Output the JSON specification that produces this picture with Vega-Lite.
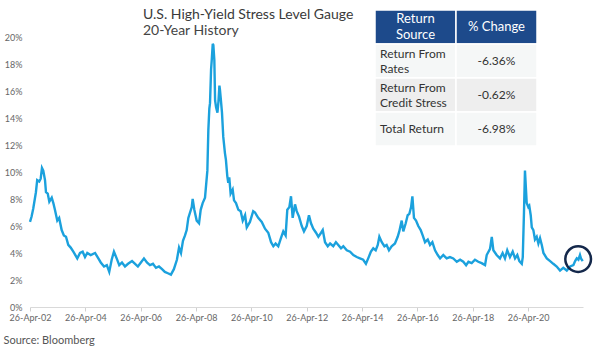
{
  "$schema": "https://vega.github.io/schema/vega-lite/v6.json",
  "width": 553,
  "height": 297,
  "autosize": {"type": "none"},
  "padding": {"left": 30, "top": 10, "right": 17, "bottom": 42},
  "config": {"view": {"stroke": null}, "font": "Lato"},
  "title": {
    "text": "U.S. High-Yield Stress Level Gauge",
    "subtitle": "20-Year History",
    "anchor": "start",
    "frame": "group",
    "dx": 113,
    "offset": -29,
    "font": "Lato",
    "fontSize": 14,
    "fontWeight": "normal",
    "color": "#3a3a3a",
    "subtitleFont": "Lato",
    "subtitleFontSize": 14,
    "subtitleColor": "#444444",
    "subtitlePadding": 2
  },
  "datasets": {
    "series": [
      {"date": "2002-04-26", "v": 6.3}, {"date": "2002-05-17", "v": 6.7}, {"date": "2002-06-08", "v": 7.3},
      {"date": "2002-07-13", "v": 8.5}, {"date": "2002-07-30", "v": 9.4}, {"date": "2002-08-26", "v": 9.3},
      {"date": "2002-09-14", "v": 9.5}, {"date": "2002-10-01", "v": 10.3}, {"date": "2002-10-18", "v": 10.1},
      {"date": "2002-11-10", "v": 9.4}, {"date": "2002-11-23", "v": 8.5}, {"date": "2002-12-16", "v": 8.4},
      {"date": "2003-01-06", "v": 7.8}, {"date": "2003-02-07", "v": 8.1}, {"date": "2003-02-28", "v": 7.7},
      {"date": "2003-03-21", "v": 7.2}, {"date": "2003-04-21", "v": 6.4}, {"date": "2003-05-16", "v": 6.6},
      {"date": "2003-06-18", "v": 5.7}, {"date": "2003-07-17", "v": 5.3}, {"date": "2003-08-14", "v": 5.2},
      {"date": "2003-09-13", "v": 4.6}, {"date": "2003-10-15", "v": 4.4}, {"date": "2003-11-19", "v": 4.1},
      {"date": "2004-01-10", "v": 3.6}, {"date": "2004-02-15", "v": 4.0}, {"date": "2004-03-21", "v": 4.1},
      {"date": "2004-04-21", "v": 3.7}, {"date": "2004-05-21", "v": 4.0}, {"date": "2004-07-05", "v": 3.85},
      {"date": "2004-09-01", "v": 4.0}, {"date": "2004-10-14", "v": 3.6}, {"date": "2004-11-15", "v": 3.3},
      {"date": "2004-12-28", "v": 3.0}, {"date": "2005-02-03", "v": 3.1}, {"date": "2005-03-07", "v": 2.6},
      {"date": "2005-04-08", "v": 3.5}, {"date": "2005-05-08", "v": 4.1}, {"date": "2005-06-13", "v": 3.6},
      {"date": "2005-07-17", "v": 3.1}, {"date": "2005-08-22", "v": 3.3}, {"date": "2005-10-01", "v": 3.0},
      {"date": "2005-11-10", "v": 3.2}, {"date": "2006-01-02", "v": 3.4}, {"date": "2006-02-11", "v": 3.2},
      {"date": "2006-03-20", "v": 3.0}, {"date": "2006-04-29", "v": 3.3}, {"date": "2006-06-08", "v": 3.6},
      {"date": "2006-07-17", "v": 3.3}, {"date": "2006-08-26", "v": 3.1}, {"date": "2006-10-05", "v": 3.2},
      {"date": "2006-11-14", "v": 2.9}, {"date": "2006-12-23", "v": 3.0}, {"date": "2007-02-02", "v": 2.8},
      {"date": "2007-03-11", "v": 2.6}, {"date": "2007-04-20", "v": 2.5}, {"date": "2007-05-30", "v": 2.4},
      {"date": "2007-07-08", "v": 2.8}, {"date": "2007-08-17", "v": 3.5}, {"date": "2007-09-14", "v": 4.4},
      {"date": "2007-10-10", "v": 4.0}, {"date": "2007-11-05", "v": 4.9}, {"date": "2007-12-02", "v": 5.3},
      {"date": "2007-12-24", "v": 5.7}, {"date": "2008-01-15", "v": 6.6}, {"date": "2008-02-29", "v": 7.4},
      {"date": "2008-03-12", "v": 8.0}, {"date": "2008-04-03", "v": 7.2}, {"date": "2008-05-04", "v": 6.4},
      {"date": "2008-06-04", "v": 6.2}, {"date": "2008-06-26", "v": 7.2}, {"date": "2008-07-22", "v": 7.7},
      {"date": "2008-08-22", "v": 8.1}, {"date": "2008-09-22", "v": 10.1}, {"date": "2008-10-05", "v": 13.1},
      {"date": "2008-10-18", "v": 14.7}, {"date": "2008-10-27", "v": 15.1}, {"date": "2008-11-10", "v": 17.6},
      {"date": "2008-11-19", "v": 18.3}, {"date": "2008-12-02", "v": 19.5}, {"date": "2008-12-10", "v": 19.4},
      {"date": "2008-12-23", "v": 18.3}, {"date": "2009-01-02", "v": 15.3}, {"date": "2009-01-15", "v": 14.8},
      {"date": "2009-02-02", "v": 14.4}, {"date": "2009-02-15", "v": 15.2}, {"date": "2009-02-28", "v": 16.4},
      {"date": "2009-03-07", "v": 16.1}, {"date": "2009-03-20", "v": 15.3}, {"date": "2009-04-03", "v": 14.4},
      {"date": "2009-04-20", "v": 12.6}, {"date": "2009-05-12", "v": 11.4}, {"date": "2009-05-25", "v": 10.9},
      {"date": "2009-06-12", "v": 9.7}, {"date": "2009-06-25", "v": 9.2}, {"date": "2009-07-08", "v": 9.6},
      {"date": "2009-07-26", "v": 8.4}, {"date": "2009-08-22", "v": 8.7}, {"date": "2009-09-09", "v": 7.9},
      {"date": "2009-10-05", "v": 7.7}, {"date": "2009-11-05", "v": 7.2}, {"date": "2009-12-06", "v": 7.1},
      {"date": "2010-01-02", "v": 6.4}, {"date": "2010-02-02", "v": 6.8}, {"date": "2010-02-24", "v": 5.9},
      {"date": "2010-04-07", "v": 6.3}, {"date": "2010-05-20", "v": 7.1}, {"date": "2010-06-13", "v": 7.0},
      {"date": "2010-07-25", "v": 6.6}, {"date": "2010-09-10", "v": 6.3}, {"date": "2010-10-23", "v": 5.8},
      {"date": "2010-12-05", "v": 5.5}, {"date": "2011-01-11", "v": 4.8}, {"date": "2011-02-10", "v": 4.5},
      {"date": "2011-03-12", "v": 4.7}, {"date": "2011-04-16", "v": 4.5}, {"date": "2011-05-21", "v": 5.1},
      {"date": "2011-06-21", "v": 5.6}, {"date": "2011-07-22", "v": 5.3}, {"date": "2011-08-13", "v": 7.2},
      {"date": "2011-09-09", "v": 7.4}, {"date": "2011-10-01", "v": 8.2}, {"date": "2011-10-23", "v": 6.6},
      {"date": "2011-11-23", "v": 7.6}, {"date": "2011-12-15", "v": 7.1}, {"date": "2012-01-15", "v": 6.7},
      {"date": "2012-02-20", "v": 6.0}, {"date": "2012-03-20", "v": 5.6}, {"date": "2012-04-25", "v": 6.0},
      {"date": "2012-05-25", "v": 6.8}, {"date": "2012-06-21", "v": 6.2}, {"date": "2012-07-21", "v": 5.8},
      {"date": "2012-08-26", "v": 5.5}, {"date": "2012-09-26", "v": 5.2}, {"date": "2012-11-01", "v": 5.5},
      {"date": "2012-11-23", "v": 5.7}, {"date": "2012-12-23", "v": 4.8}, {"date": "2013-01-28", "v": 4.5},
      {"date": "2013-02-28", "v": 4.7}, {"date": "2013-04-11", "v": 4.5}, {"date": "2013-05-16", "v": 4.8},
      {"date": "2013-06-16", "v": 4.6}, {"date": "2013-07-22", "v": 4.35}, {"date": "2013-08-21", "v": 4.5},
      {"date": "2013-10-06", "v": 4.2}, {"date": "2013-11-19", "v": 4.1}, {"date": "2014-01-01", "v": 3.85},
      {"date": "2014-02-15", "v": 3.7}, {"date": "2014-03-29", "v": 3.6}, {"date": "2014-05-11", "v": 3.5},
      {"date": "2014-06-16", "v": 3.2}, {"date": "2014-07-16", "v": 3.6}, {"date": "2014-08-21", "v": 4.1},
      {"date": "2014-09-21", "v": 4.35}, {"date": "2014-10-23", "v": 4.2}, {"date": "2014-11-19", "v": 4.6},
      {"date": "2014-12-10", "v": 5.2}, {"date": "2015-01-11", "v": 4.8}, {"date": "2015-02-15", "v": 4.5},
      {"date": "2015-03-16", "v": 4.6}, {"date": "2015-04-16", "v": 4.2}, {"date": "2015-05-21", "v": 4.5},
      {"date": "2015-07-04", "v": 4.7}, {"date": "2015-08-09", "v": 5.2}, {"date": "2015-08-30", "v": 5.6},
      {"date": "2015-10-01", "v": 6.4}, {"date": "2015-10-22", "v": 5.6}, {"date": "2015-11-23", "v": 6.2},
      {"date": "2015-12-19", "v": 6.8}, {"date": "2016-01-10", "v": 6.9}, {"date": "2016-02-02", "v": 7.4},
      {"date": "2016-02-19", "v": 8.2}, {"date": "2016-03-11", "v": 6.6}, {"date": "2016-04-07", "v": 6.4},
      {"date": "2016-05-07", "v": 6.0}, {"date": "2016-06-08", "v": 5.7}, {"date": "2016-07-04", "v": 5.3},
      {"date": "2016-08-04", "v": 4.8}, {"date": "2016-09-09", "v": 5.0}, {"date": "2016-10-09", "v": 4.6},
      {"date": "2016-11-09", "v": 4.8}, {"date": "2016-12-14", "v": 4.2}, {"date": "2017-01-19", "v": 3.85},
      {"date": "2017-02-19", "v": 3.6}, {"date": "2017-04-02", "v": 3.85}, {"date": "2017-05-17", "v": 3.6},
      {"date": "2017-06-29", "v": 3.7}, {"date": "2017-08-12", "v": 3.6}, {"date": "2017-09-27", "v": 3.35},
      {"date": "2017-11-10", "v": 3.5}, {"date": "2017-12-22", "v": 3.35}, {"date": "2018-01-28", "v": 3.1},
      {"date": "2018-02-28", "v": 3.35}, {"date": "2018-04-12", "v": 3.25}, {"date": "2018-05-25", "v": 3.5},
      {"date": "2018-07-08", "v": 3.35}, {"date": "2018-08-21", "v": 3.25}, {"date": "2018-10-05", "v": 3.1},
      {"date": "2018-10-27", "v": 3.85}, {"date": "2018-12-10", "v": 4.3}, {"date": "2019-01-02", "v": 5.2},
      {"date": "2019-01-23", "v": 4.2}, {"date": "2019-03-07", "v": 3.85}, {"date": "2019-04-20", "v": 3.6},
      {"date": "2019-05-25", "v": 4.0}, {"date": "2019-06-25", "v": 3.6}, {"date": "2019-07-25", "v": 4.2},
      {"date": "2019-08-30", "v": 3.7}, {"date": "2019-10-05", "v": 4.1}, {"date": "2019-11-05", "v": 3.6},
      {"date": "2019-12-05", "v": 3.85}, {"date": "2020-01-01", "v": 3.4}, {"date": "2020-02-02", "v": 3.2},
      {"date": "2020-02-15", "v": 3.7}, {"date": "2020-03-02", "v": 7.0}, {"date": "2020-03-15", "v": 10.1},
      {"date": "2020-04-07", "v": 7.7}, {"date": "2020-04-28", "v": 7.4}, {"date": "2020-05-11", "v": 7.5},
      {"date": "2020-05-30", "v": 6.8}, {"date": "2020-06-13", "v": 5.9}, {"date": "2020-07-04", "v": 5.7},
      {"date": "2020-07-25", "v": 5.0}, {"date": "2020-08-17", "v": 5.2}, {"date": "2020-09-08", "v": 4.7},
      {"date": "2020-09-30", "v": 5.1}, {"date": "2020-10-23", "v": 4.6}, {"date": "2020-11-14", "v": 4.0},
      {"date": "2020-12-28", "v": 3.6}, {"date": "2021-02-10", "v": 3.4}, {"date": "2021-03-24", "v": 3.2},
      {"date": "2021-05-08", "v": 3.0}, {"date": "2021-06-21", "v": 2.7}, {"date": "2021-08-03", "v": 2.9},
      {"date": "2021-09-18", "v": 2.7}, {"date": "2021-11-01", "v": 3.0}, {"date": "2021-12-14", "v": 3.1},
      {"date": "2022-01-06", "v": 3.4}, {"date": "2022-01-28", "v": 3.6}, {"date": "2022-02-18", "v": 3.5},
      {"date": "2022-03-11", "v": 3.85}, {"date": "2022-03-24", "v": 3.6}, {"date": "2022-04-16", "v": 3.4}
    ],
    "level": [{"level": 5.1}],
    "current": [{"date": "2022-02-15", "v": 3.55}],
    "table": [
      {"row": "h", "col": "c1", "lines": 2, "text": "Return\nSource"},
      {"row": "h", "col": "c2", "lines": 1, "text": "% Change"},
      {"row": "r1", "col": "c1", "lines": 2, "text": "Return From\nRates"},
      {"row": "r1", "col": "c2", "lines": 1, "text": "-6.36%"},
      {"row": "r2", "col": "c1", "lines": 2, "text": "Return From\nCredit Stress"},
      {"row": "r2", "col": "c2", "lines": 1, "text": "-0.62%"},
      {"row": "r3", "col": "c1", "lines": 1, "text": "Total Return"},
      {"row": "r3", "col": "c2", "lines": 1, "text": "-6.98%"}
    ]
  },
  "layer": [
    {
      "encoding": {
        "x": {
          "field": "date",
          "type": "temporal",
          "scale": {
            "type": "utc",
            "domain": [
              {"year": 2002, "month": 4, "date": 26, "utc": true},
              {"year": 2022, "month": 4, "date": 20, "utc": true}
            ]
          },
          "axis": {
            "values": [
              {"year": 2002, "month": 4, "date": 26, "utc": true},
              {"year": 2004, "month": 4, "date": 26, "utc": true},
              {"year": 2006, "month": 4, "date": 26, "utc": true},
              {"year": 2008, "month": 4, "date": 26, "utc": true},
              {"year": 2010, "month": 4, "date": 26, "utc": true},
              {"year": 2012, "month": 4, "date": 26, "utc": true},
              {"year": 2014, "month": 4, "date": 26, "utc": true},
              {"year": 2016, "month": 4, "date": 26, "utc": true},
              {"year": 2018, "month": 4, "date": 26, "utc": true},
              {"year": 2020, "month": 4, "date": 26, "utc": true}
            ],
            "labelExpr": "utcFormat(datum.value, '%d-%b-%y')",
            "grid": false,
            "labelFlush": false,
            "labelOverlap": false,
            "domainColor": "#d9d9d9",
            "tickColor": "#d0d0d0",
            "tickSize": 4,
            "labelPadding": 2,
            "labelFont": "Lato",
            "labelFontSize": 9,
            "labelColor": "#666666",
            "title": "Source: Bloomberg",
            "titleFont": "Lato",
            "titleFontSize": 11,
            "titleFontWeight": "normal",
            "titleColor": "#555555",
            "titleAnchor": "start",
            "titleAlign": "left",
            "titleBaseline": "middle",
            "titleX": -27,
            "titleY": 33
          }
        },
        "y": {
          "type": "quantitative",
          "scale": {"domain": [0, 22], "nice": false, "zero": true},
          "axis": {
            "values": [0, 2, 4, 6, 8, 10, 12, 14, 16, 18, 20],
            "labelExpr": "datum.value + '%'",
            "domain": false,
            "ticks": false,
            "grid": false,
            "labelPadding": 8,
            "labelFont": "Lato",
            "labelFontSize": 9,
            "labelColor": "#666666",
            "title": null
          }
        }
      },
      "layer": [
        {
          "data": {"name": "series"},
          "mark": {"type": "line", "color": "#1ba1dd", "strokeWidth": 2.4, "interpolate": "linear"},
          "encoding": {"y": {"field": "v", "type": "quantitative"}}
        },
        {
          "data": {"name": "level"},
          "mark": {"type": "rule", "color": "#5f87b5", "strokeWidth": 2.5},
          "encoding": {"y": {"field": "level", "type": "quantitative"}}
        },
        {
          "data": {"name": "current"},
          "mark": {"type": "point", "shape": "circle", "filled": false, "size": 660, "stroke": "#14284b", "strokeWidth": 2.5, "opacity": 1},
          "encoding": {"y": {"field": "v", "type": "quantitative"}}
        }
      ]
    },
    {
      "data": {"name": "table"},
      "encoding": {
        "x": {
          "field": "col",
          "type": "nominal",
          "scale": {"domain": ["c1", "c2"], "paddingInner": 0, "paddingOuter": 0, "range": [345, 507]},
          "axis": null
        },
        "y": {
          "field": "row",
          "type": "nominal",
          "scale": {"domain": ["h", "r1", "r2", "r3"], "paddingInner": 0, "paddingOuter": 0, "range": [0, 136]},
          "axis": null
        }
      },
      "layer": [
        {
          "mark": {"type": "rect", "stroke": "#ffffff", "strokeWidth": 1.5},
          "encoding": {
            "color": {
              "field": "row",
              "type": "nominal",
              "scale": {"domain": ["h", "r1", "r2", "r3"], "range": ["#1d4a8b", "#f5f7f7", "#eeeeee", "#f5f7f7"]},
              "legend": null
            }
          }
        },
        {
          "transform": [{"filter": "datum.row === 'h' && datum.lines === 2"}],
          "mark": {"type": "text", "font": "Lato", "fontSize": 13, "color": "#ffffff", "align": "center", "baseline": "middle", "lineBreak": "\n", "lineHeight": 16, "dy": -8},
          "encoding": {"text": {"field": "text"}}
        },
        {
          "transform": [{"filter": "datum.row === 'h' && datum.lines === 1"}],
          "mark": {"type": "text", "font": "Lato", "fontSize": 13, "color": "#ffffff", "align": "center", "baseline": "middle"},
          "encoding": {"text": {"field": "text"}}
        },
        {
          "transform": [{"filter": "datum.row !== 'h' && datum.col === 'c1' && datum.lines === 2"}],
          "mark": {"type": "text", "font": "Lato", "fontSize": 12, "color": "#333333", "align": "left", "baseline": "middle", "lineBreak": "\n", "lineHeight": 15.5, "dx": 5, "dy": -7.5},
          "encoding": {"x": {"field": "col", "type": "nominal", "bandPosition": 0}, "text": {"field": "text"}}
        },
        {
          "transform": [{"filter": "datum.row !== 'h' && datum.col === 'c1' && datum.lines === 1"}],
          "mark": {"type": "text", "font": "Lato", "fontSize": 12, "color": "#333333", "align": "left", "baseline": "middle", "dx": 5},
          "encoding": {"x": {"field": "col", "type": "nominal", "bandPosition": 0}, "text": {"field": "text"}}
        },
        {
          "transform": [{"filter": "datum.row !== 'h' && datum.col === 'c2'"}],
          "mark": {"type": "text", "font": "Lato", "fontSize": 12, "color": "#333333", "align": "center", "baseline": "middle"},
          "encoding": {"text": {"field": "text"}}
        }
      ]
    }
  ],
  "resolve": {"scale": {"x": "independent", "y": "independent", "color": "independent"}}
}
